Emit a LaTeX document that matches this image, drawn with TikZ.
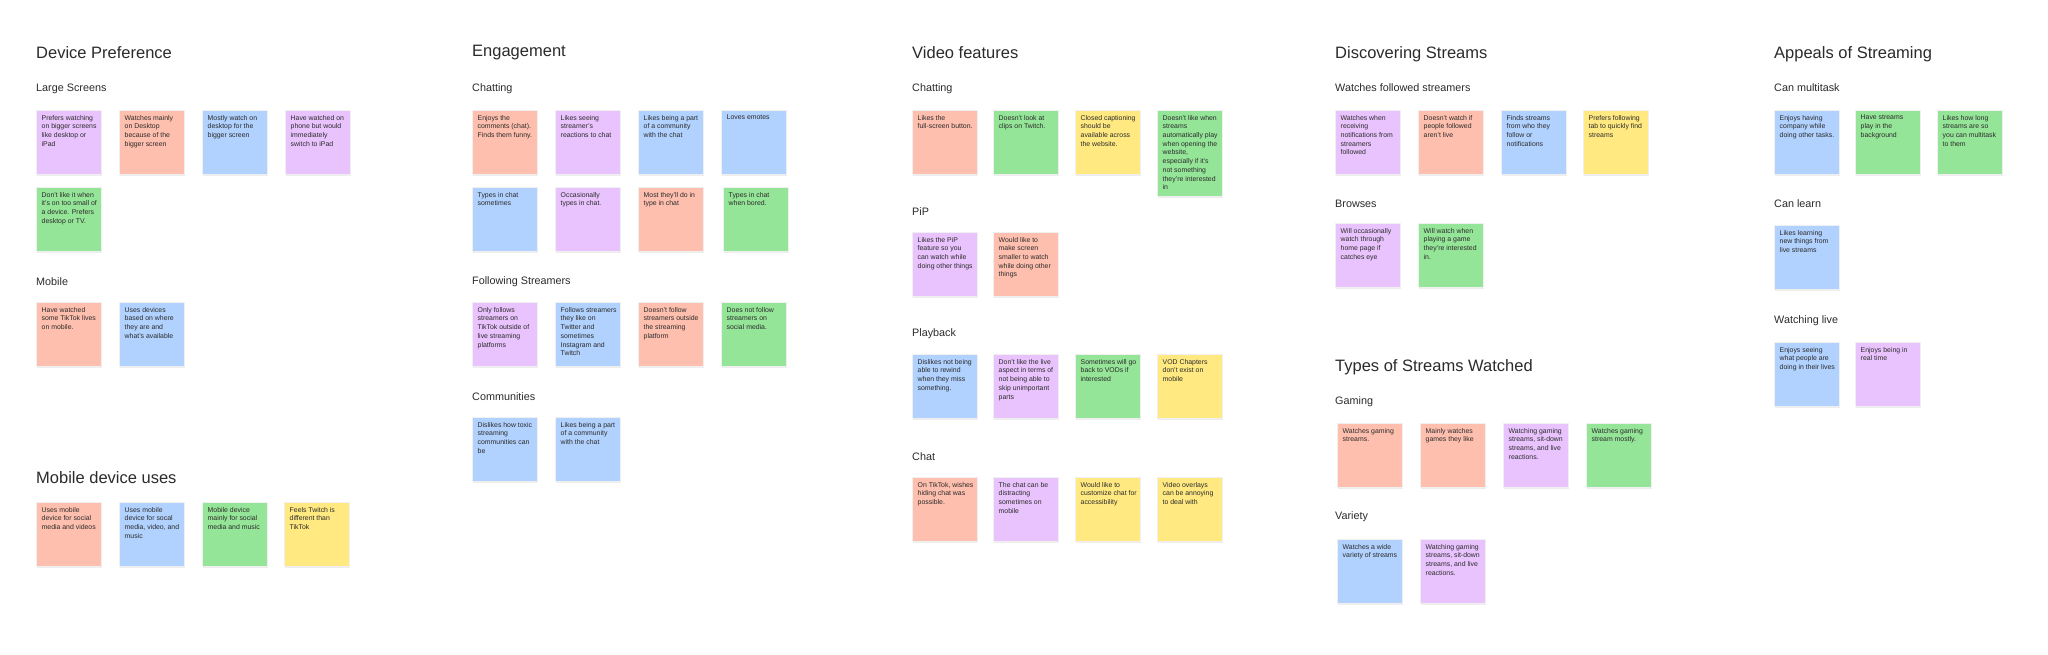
\documentclass[tikz,border=0pt]{standalone}
\usepackage{fontspec}
\usepackage[none]{hyphenat}
\setmainfont{Liberation Sans}
\definecolor{cSal}{HTML}{FFBFAE}
\definecolor{cPur}{HTML}{E9C3FD}
\definecolor{cBlu}{HTML}{B1D1FE}
\definecolor{cGrn}{HTML}{95E598}
\definecolor{cYel}{HTML}{FFE980}
\definecolor{cTxt}{HTML}{2B2B2B}
\tikzset{
 note/.style={rectangle,inner sep=0pt,minimum width=65pt,minimum height=64pt,anchor=north west,draw=black!6,line width=0.4pt},
 shad/.style={rectangle,inner sep=0pt,minimum width=65pt,minimum height=64pt,anchor=north west,fill=black!7},
 ntext/.style={anchor=north west,inner sep=0pt,text width=56pt,align=flush left,text=cTxt,font=\fontsize{6.9}{8.7}\selectfont},
 title/.style={anchor=west,inner sep=0pt,text=cTxt,font=\fontsize{16.5}{18}\selectfont},
 sub/.style={anchor=west,inner sep=0pt,text=cTxt,font=\fontsize{10.8}{12}\selectfont},
}
\newcommand\stk[6][64]{%
 \node[shad,minimum height=#1pt] (#2s) at (#3+0.5,#4+1.8) {};
 \node[note,fill=#5,minimum height=#1pt] (#2) at (#3,#4) {};
 \node[ntext] (#2t) at ([xshift=5.5pt,yshift=-5pt]#2.north west) {#6};}
\begin{document}
\begin{tikzpicture}[x=1pt,y=-1pt]
\useasboundingbox[fill=white] (0,0) rectangle (2048,655);
% Device Preference
\node[title] (t1) at (36,53) {Device Preference};
\node[sub] (s11) at (36,89) {Large Screens};
\stk{a1}{36}{110}{cPur}{Prefers watching on bigger screens like desktop or iPad}
\stk{a2}{119}{110}{cSal}{Watches mainly on Desktop because of the bigger screen}
\stk{a3}{202}{110}{cBlu}{Mostly watch on desktop for the bigger screen}
\stk{a4}{285}{110}{cPur}{Have watched on phone but would immediately switch to iPad}
\stk{a5}{36}{187}{cGrn}{Don't like it when it's on too small of a device. Prefers desktop or TV.}
\node[sub] (s12) at (36,282) {Mobile};
\stk{a6}{36}{302}{cSal}{Have watched some TikTok lives on mobile.}
\stk{a7}{119}{302}{cBlu}{Uses devices based on where they are and what's available}
\node[title] (t1b) at (36,478) {Mobile device uses};
\stk{b1}{36}{502}{cSal}{Uses mobile device for social media and videos}
\stk{b2}{119}{502}{cBlu}{Uses mobile device for socal media, video, and music}
\stk{b3}{202}{502}{cGrn}{Mobile device mainly for social media and music}
\stk{b4}{284}{502}{cYel}{Feels Twitch is different than TikTok}
% Engagement
\node[title] (t2) at (472,53) {Engagement};
\node[sub] (s21) at (472,89) {Chatting};
\stk{c1}{472}{110}{cSal}{Enjoys the comments (chat). Finds them funny.}
\stk{c2}{555}{110}{cPur}{Likes seeing streamer's reactions to chat}
\stk{c3}{638}{110}{cBlu}{Likes being a part of a community with the chat}
\stk{c4}{721}{110}{cBlu}{Loves emotes}
\stk{c5}{472}{187}{cBlu}{Types in chat sometimes}
\stk{c6}{555}{187}{cPur}{Occasionally types in chat.}
\stk{c7}{638}{187}{cSal}{Most they'll do in type in chat}
\stk{c8}{723}{187}{cGrn}{Types in chat when bored.}
\node[sub] (s22) at (472,282) {Following Streamers};
\stk{d1}{472}{302}{cPur}{Only follows streamers on TikTok outside of live streaming platforms}
\stk{d2}{555}{302}{cBlu}{Follows streamers they like on Twitter and sometimes Instagram and Twitch}
\stk{d3}{638}{302}{cSal}{Doesn't follow streamers outside the streaming platform}
\stk{d4}{721}{302}{cGrn}{Does not follow streamers on social media.}
\node[sub] (s23) at (472,397) {Communities};
\stk{e1}{472}{417}{cBlu}{Dislikes how toxic streaming communities can be}
\stk{e2}{555}{417}{cBlu}{Likes being a part of a community with the chat}
% Video features
\node[title] (t3) at (912,53) {Video features};
\node[sub] (s31) at (912,89) {Chatting};
\stk{f1}{912}{110}{cSal}{Likes the full-screen button.}
\stk{f2}{993}{110}{cGrn}{Doesn't look at clips on Twitch.}
\stk{f3}{1075}{110}{cYel}{Closed captioning should be available across the website.}
\stk[86]{f4}{1157}{110}{cGrn}{Doesn't like when streams automatically play when opening the website, especially if it's not something they're interested in}
\node[sub] (s32) at (912,212) {PiP};
\stk{g1}{912}{232}{cPur}{Likes the PiP feature so you can watch while doing other things}
\stk{g2}{993}{232}{cSal}{Would like to make screen smaller to watch while doing other things}
\node[sub] (s33) at (912,334) {Playback};
\stk{h1}{912}{354}{cBlu}{Dislikes not being able to rewind when they miss something.}
\stk{h2}{993}{354}{cPur}{Don't like the live aspect in terms of not being able to skip unimportant parts}
\stk{h3}{1075}{354}{cGrn}{Sometimes will go back to VODs if interested}
\stk{h4}{1157}{354}{cYel}{VOD Chapters don't exist on mobile}
\node[sub] (s34) at (912,457) {Chat};
\stk{i1}{912}{477}{cSal}{On TikTok, wishes hiding chat was possible.}
\stk{i2}{993}{477}{cPur}{The chat can be distracting sometimes on mobile}
\stk{i3}{1075}{477}{cYel}{Would like to customize chat for accessibility}
\stk{i4}{1157}{477}{cYel}{Video overlays can be annoying to deal with}
% Discovering Streams
\node[title] (t4) at (1335,54) {Discovering Streams};
\node[sub] (s41) at (1335,88) {Watches followed streamers};
\stk{j1}{1335}{110}{cPur}{Watches when receiving notifications from streamers followed}
\stk{j2}{1418}{110}{cSal}{Doesn't watch if people followed aren't live}
\stk{j3}{1501}{110}{cBlu}{Finds streams from who they follow or notifications}
\stk{j4}{1583}{110}{cYel}{Prefers following tab to quickly find streams}
\node[sub] (s42) at (1335,204) {Browses};
\stk{k1}{1335}{223}{cPur}{Will occasionally watch through home page if catches eye}
\stk{k2}{1418}{223}{cGrn}{Will watch when playing a game they're interested in.}
\node[title] (t5) at (1335,367) {Types of Streams Watched};
\node[sub] (s51) at (1335,402) {Gaming};
\stk{l1}{1337}{423}{cSal}{Watches gaming streams.}
\stk{l2}{1420}{423}{cSal}{Mainly watches games they like}
\stk{l3}{1503}{423}{cPur}{Watching gaming streams, sit-down streams, and live reactions.}
\stk{l4}{1586}{423}{cGrn}{Watches gaming stream mostly.}
\node[sub] (s52) at (1335,517) {Variety};
\stk{m1}{1337}{539}{cBlu}{Watches a wide variety of streams}
\stk{m2}{1420}{539}{cPur}{Watching gaming streams, sit-down streams, and live reactions.}
% Appeals
\node[title] (t6) at (1774,54) {Appeals of Streaming};
\node[sub] (s61) at (1774,88) {Can multitask};
\stk{n1}{1774}{110}{cBlu}{Enjoys having company while doing other tasks.}
\stk{n2}{1855}{110}{cGrn}{Have streams play in the background}
\stk{n3}{1937}{110}{cGrn}{Likes how long streams are so you can multitask to them}
\node[sub] (s62) at (1774,204) {Can learn};
\stk{o1}{1774}{225}{cBlu}{Likes learning new things from live streams}
\node[sub] (s63) at (1774,321) {Watching live};
\stk{p1}{1774}{342}{cBlu}{Enjoys seeing what people are doing in their lives}
\stk{p2}{1855}{342}{cPur}{Enjoys being in real time}
\end{tikzpicture}
\end{document}
